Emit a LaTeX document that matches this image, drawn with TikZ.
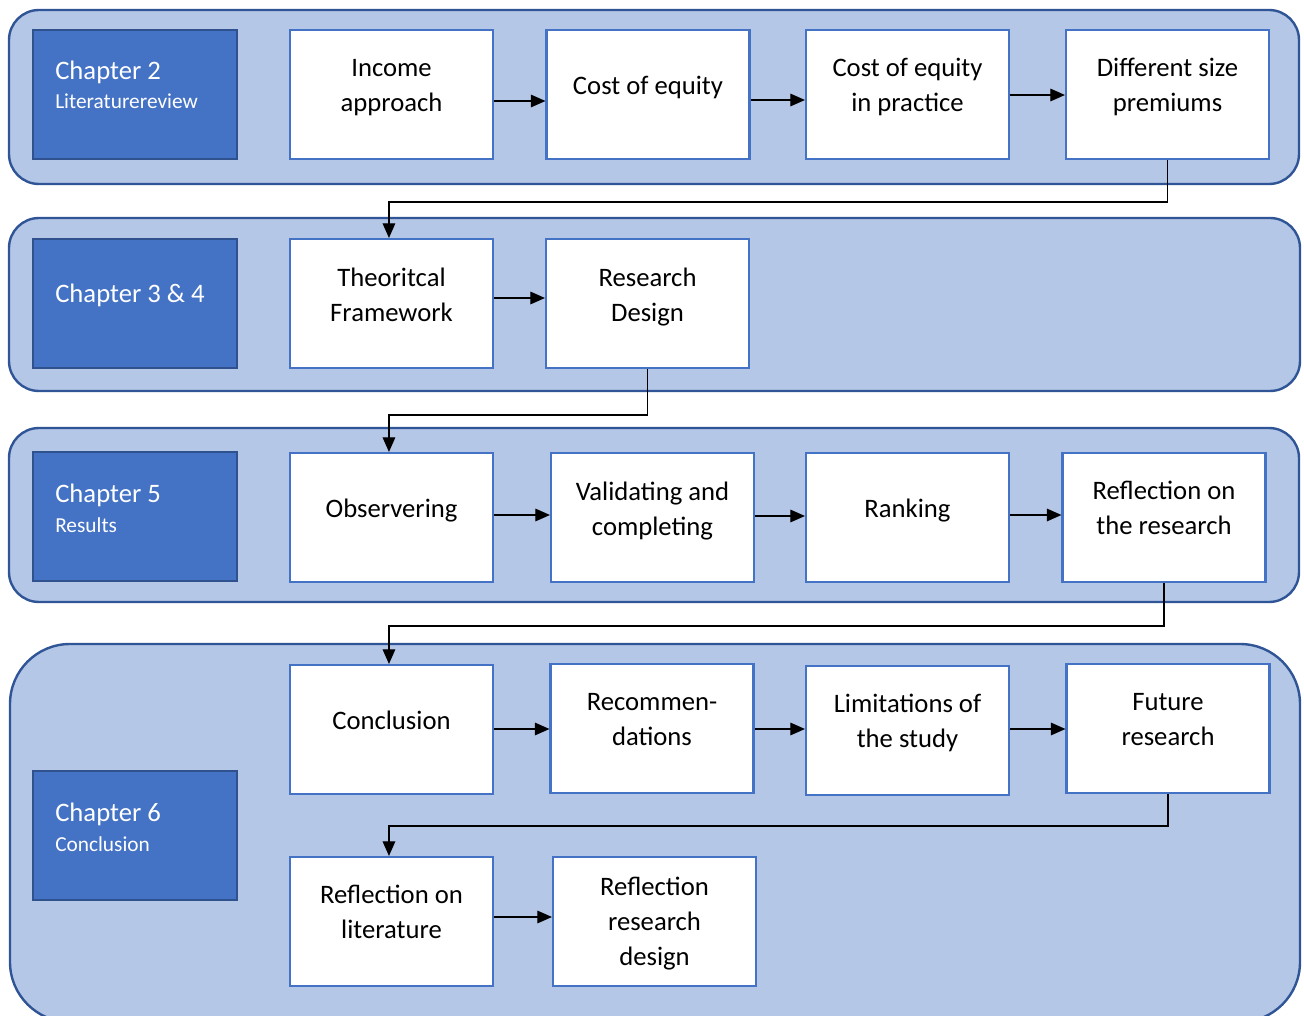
\documentclass[tikz,border=0pt]{standalone}
\usepackage{fontspec}
\setmainfont{Carlito}
\usetikzlibrary{arrows.meta}
\definecolor{bandfill}{HTML}{B4C7E7}
\definecolor{banddraw}{HTML}{2F5597}
\definecolor{chapfill}{HTML}{4472C4}
\definecolor{chapdraw}{HTML}{2F528F}
\definecolor{boxdraw}{HTML}{4472C4}
\tikzset{
  band/.style={fill=bandfill, draw=banddraw, line width=1.8pt},
  chapbox/.style={fill=chapfill, draw=chapdraw, line width=1.6pt, minimum width=153pt, minimum height=96.75pt, inner sep=0pt},
  chaptitle/.style={anchor=base west, text=white, font=\fontsize{20}{24}\selectfont, inner sep=0pt},
  chapsub/.style={anchor=base west, text=white, font=\fontsize{16}{19}\selectfont, inner sep=0pt},
  wbox/.style={fill=white, draw=boxdraw, line width=1.6pt, minimum width=152.25pt, minimum height=96.75pt, inner sep=0pt},
  txt/.style={align=center, font=\fontsize{20}{26.25}\selectfont, text=black, inner sep=0pt,
    execute at begin node=\strut, execute at end node=\strut},
  one/.style={txt, yshift=5.25pt},
  two/.style={txt, yshift=3pt},
  three/.style={txt, yshift=-3.75pt},
  arr/.style={draw=black, line width=0.9pt, -{Triangle[length=11pt,width=9.5pt]}},
}
\begin{document}
\begin{tikzpicture}[x=0.75pt, y=-0.75pt]
\useasboundingbox (0,0) rectangle (1304,1016);
\clip (0,0) rectangle (1304,1016);
% bands
\draw[band, rounded corners=22.5pt] (9,10) rectangle (1299,184);
\draw[band, rounded corners=22.5pt] (9,218) rectangle (1300,391);
\draw[band, rounded corners=22.5pt] (9,428) rectangle (1299,602);
\draw[band, rounded corners=45pt] (10,644) rectangle (1300,1022);
% chapter boxes
\node[chapbox] (ch2) at (135,94.5) {};
\node[chaptitle] (ch2t) at (55,80) {Chapter 2};
\node[chapsub] (ch2s) at (55,109) {Literaturereview};
\node[chapbox] (ch34) at (135,303.5) {};
\node[chaptitle] (ch34t) at (55,303) {Chapter 3 \& 4};
\node[chapbox] (ch5) at (135,516.5) {};
\node[chaptitle] (ch5t) at (55,502) {Chapter 5};
\node[chapsub] (ch5s) at (55,532) {Results};
\node[chapbox] (ch6) at (135,835.5) {};
\node[chaptitle] (ch6t) at (55,821) {Chapter 6};
\node[chapsub] (ch6s) at (55,851) {Conclusion};
% row 1
\node[wbox, label={[two]center:Income\\approach}] (inc) at (391.5,94.5) {};
\node[wbox, label={[one]center:Cost of equity}] (cost) at (648,94.5) {};
\node[wbox, label={[two]center:Cost of equity\\in practice}] (prac) at (907.5,94.5) {};
\node[wbox, label={[two]center:Different size\\premiums}] (diff) at (1167.5,94.5) {};
% row 2
\node[wbox, label={[two]center:Theoritcal\\Framework}] (theo) at (391.5,303.5) {};
\node[wbox, label={[two]center:Research\\Design}] (res) at (647.5,303.5) {};
% row 3
\node[wbox, label={[one]center:Observering}] (obs) at (391.5,517.5) {};
\node[wbox, label={[two]center:Validating and\\completing}] (val) at (652.5,517.5) {};
\node[wbox, label={[one]center:Ranking}] (rank) at (907.5,517.5) {};
\node[wbox, label={[two]center:Reflection on\\the research}] (refl) at (1164,517.5) {};
% row 4
\node[wbox, label={[one]center:Conclusion}] (concl) at (391.5,729.5) {};
\node[wbox, label={[two]center:Recommen-\\dations}] (recom) at (652,728.5) {};
\node[wbox, label={[two]center:Limitations of\\the study}] (lim) at (907.5,730.5) {};
\node[wbox, label={[two]center:Future\\research}] (fut) at (1168,728.5) {};
% row 5
\node[wbox, label={[two]center:Reflection on\\literature}] (rlit) at (391.5,921.5) {};
\node[wbox, label={[three]center:Reflection\\research\\design}] (rrd) at (654.5,921.5) {};
% horizontal arrows
\draw[arr] (inc.east |- 0,101) -- (cost.west |- 0,101);
\draw[arr] (cost.east |- 0,100) -- (prac.west |- 0,100);
\draw[arr] (prac.east |- 0,95) -- (diff.west |- 0,95);
\draw[arr] (theo.east |- 0,298) -- (res.west |- 0,298);
\draw[arr] (obs.east |- 0,515) -- (val.west |- 0,515);
\draw[arr] (val.east |- 0,516) -- (rank.west |- 0,516);
\draw[arr] (rank.east |- 0,515) -- (refl.west |- 0,515);
\draw[arr] (concl.east |- 0,729) -- (recom.west |- 0,729);
\draw[arr] (recom.east |- 0,729) -- (lim.west |- 0,729);
\draw[arr] (lim.east |- 0,729) -- (fut.west |- 0,729);
\draw[arr] (rlit.east |- 0,917) -- (rrd.west |- 0,917);
% row-to-row connectors
\draw[arr] (diff.south) -- ++(0,42) -| ([xshift=-1.9pt]theo.north);
\draw[arr] (res.south) -- ++(0,46) -| ([xshift=-1.9pt]obs.north);
\draw[arr] (refl.south) -- ++(0,43) -| ([xshift=-1.9pt]concl.north);
\draw[arr] (fut.south) -- ++(0,32) -| ([xshift=-1.9pt]rlit.north);
\end{tikzpicture}
\end{document}
